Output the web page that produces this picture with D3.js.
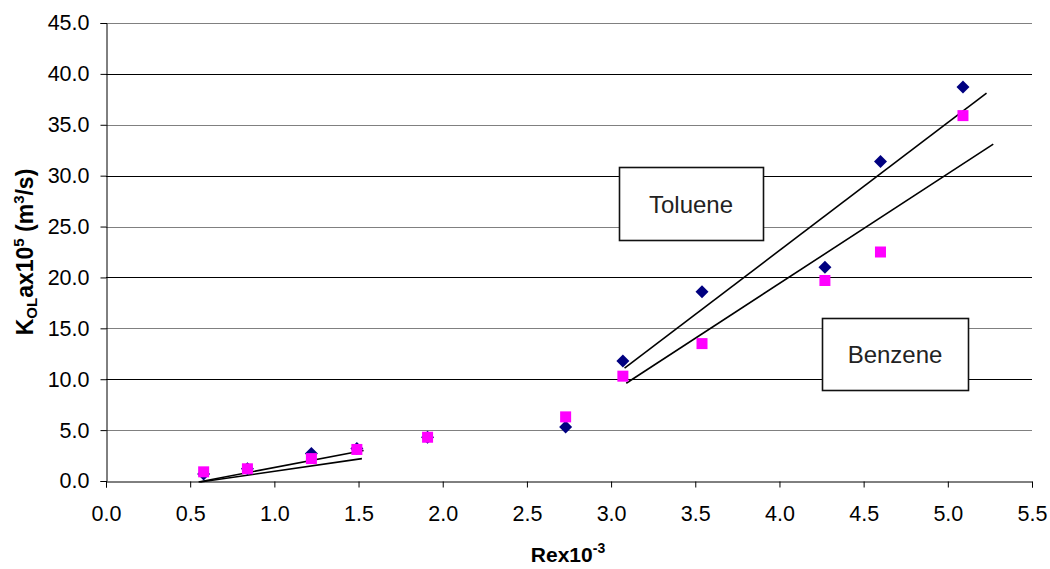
<!DOCTYPE html>
<html>
<head>
<meta charset="utf-8">
<script src="https://cdn.jsdelivr.net/npm/d3@7"></script>
<style>
  html, body { margin: 0; padding: 0; background: #fff; }
  svg { display: block; font-family: Arial, "Liberation Sans", sans-serif; }
</style>
</head>
<body>
<svg id="chart" width="1050" height="569"></svg>
<script>
// Reynolds number (x 10^-3) at each run
const reynolds = [0.58, 0.84, 1.22, 1.49, 1.91, 2.73, 3.07, 3.54, 4.27, 4.60, 5.09];
// Overall mass-transfer coefficient K_OL a x 10^5 (m^3/s)
const toluene = [0.7, 1.2, 2.7, 3.2, 4.3, 5.3, 11.8, 18.6, 21.0, 31.4, 38.7];
const benzene = [0.9, 1.2, 2.2, 3.1, 4.3, 6.3, 10.3, 13.5, 19.7, 22.5, 35.9];

// Fitted trend segments: [x1, y1, x2, y2]
const trendLow = [
  [0.55, -0.1, 1.53, 3.0],
  [0.56, -0.1, 1.52, 2.2]
];
const trendHigh = [
  [3.08, 11.1, 5.23, 38.1],   // toluene
  [3.09, 9.6, 5.27, 33.1]     // benzene
];

const xTicks = [0, 0.5, 1, 1.5, 2, 2.5, 3, 3.5, 4, 4.5, 5, 5.5];
const yTicks = [0, 5, 10, 15, 20, 25, 30, 35, 40, 45];

const svg = d3.select("#chart");
const plotLeft = 106, plotRight = 1032, plotTop = 23, plotBottom = 481;
const tickFont = 21.5;

const x = d3.scaleLinear().domain([0, 5.5]).range([plotLeft, plotRight]);
const y = d3.scaleLinear().domain([0, 45]).range([plotBottom, plotTop]);

// Horizontal gridlines
svg.append("g").selectAll("line")
  .data(yTicks.filter(d => d > 0))
  .join("line")
  .attr("x1", plotLeft).attr("x2", plotRight)
  .attr("y1", d => Math.round(y(d)) + 0.5)
  .attr("y2", d => Math.round(y(d)) + 0.5)
  .attr("stroke", d => d % 10 === 0 ? "#000" : "#808080")
  .attr("stroke-width", 1);

// Y axis
const yAxis = svg.append("g")
  .attr("transform", `translate(${plotLeft + 0.5},0)`)
  .call(d3.axisLeft(y).tickValues(yTicks).tickFormat(d3.format(".1f")).tickSize(6).tickPadding(11));
yAxis.select(".domain").attr("stroke", "#000");
yAxis.selectAll(".tick line").attr("stroke", "#000");
yAxis.selectAll(".tick text").attr("font-size", tickFont).attr("fill", "#000")
  .attr("font-family", "Arial, 'Liberation Sans', sans-serif");

// X axis
const xAxis = svg.append("g")
  .attr("transform", `translate(0,${plotBottom + 0.5})`)
  .call(d3.axisBottom(x).tickValues(xTicks).tickFormat(d3.format(".1f")).tickSize(6).tickPadding(18));
xAxis.select(".domain").attr("stroke", "#000");
xAxis.selectAll(".tick line").attr("stroke", "#000");
xAxis.selectAll(".tick text").attr("font-size", tickFont).attr("fill", "#000")
  .attr("font-family", "Arial, 'Liberation Sans', sans-serif");

// Trend lines
svg.append("g").selectAll("line")
  .data(trendLow.concat(trendHigh))
  .join("line")
  .attr("x1", d => x(d[0])).attr("y1", d => y(d[1]))
  .attr("x2", d => x(d[2])).attr("y2", d => y(d[3]))
  .attr("stroke", "#000").attr("stroke-width", 1.6);

// Toluene: navy diamonds
svg.append("g").selectAll("path")
  .data(reynolds.map((r, i) => [r, toluene[i]]))
  .join("path")
  .attr("d", "M0,-6.5L6.5,0L0,6.5L-6.5,0Z")
  .attr("transform", d => `translate(${x(d[0])},${y(d[1])})`)
  .attr("fill", "#000080");

// Benzene: magenta squares
svg.append("g").selectAll("rect")
  .data(reynolds.map((r, i) => [r, benzene[i]]))
  .join("rect")
  .attr("x", d => x(d[0]) - 5.5).attr("y", d => y(d[1]) - 5.5)
  .attr("width", 11).attr("height", 11)
  .attr("fill", "#ff00ff");

// Annotation boxes
const notes = [
  { text: "Toluene", x: 619, y: 167, w: 144, h: 73 },
  { text: "Benzene", x: 822, y: 318, w: 146, h: 72 }
];
const ng = svg.append("g").selectAll("g").data(notes).join("g");
ng.append("rect")
  .attr("x", d => d.x + 0.5).attr("y", d => d.y + 0.5)
  .attr("width", d => d.w).attr("height", d => d.h)
  .attr("fill", "#fff").attr("stroke", "#111").attr("stroke-width", 1.6);
ng.append("text")
  .attr("x", d => d.x + d.w / 2).attr("y", d => d.y + d.h / 2 + 9)
  .attr("text-anchor", "middle")
  .attr("font-size", 24).attr("fill", "#222")
  .text(d => d.text);

// Y title: K_OL a x 10^5 (m^3/s)
const yt = svg.append("text")
  .attr("transform", "translate(33,252) rotate(-90)")
  .attr("text-anchor", "middle")
  .attr("font-size", 23).attr("font-weight", "bold").attr("fill", "#000");
yt.append("tspan").text("K");
yt.append("tspan").attr("font-size", 15).attr("dy", 4).text("OL");
yt.append("tspan").attr("dy", -4).text("ax10");
yt.append("tspan").attr("font-size", 15).attr("dy", -9).text("5");
yt.append("tspan").attr("dy", 9).text(" (m");
yt.append("tspan").attr("font-size", 15).attr("dy", -9).text("3");
yt.append("tspan").attr("dy", 9).text("/s)");

// X title: Re x 10^-3
const xt = svg.append("text")
  .attr("x", 568).attr("y", 562)
  .attr("text-anchor", "middle")
  .attr("font-size", 21).attr("font-weight", "bold").attr("fill", "#000");
xt.append("tspan").text("Rex10");
xt.append("tspan").attr("font-size", 14).attr("dy", -9).text("-3");
</script>
</body>
</html>
